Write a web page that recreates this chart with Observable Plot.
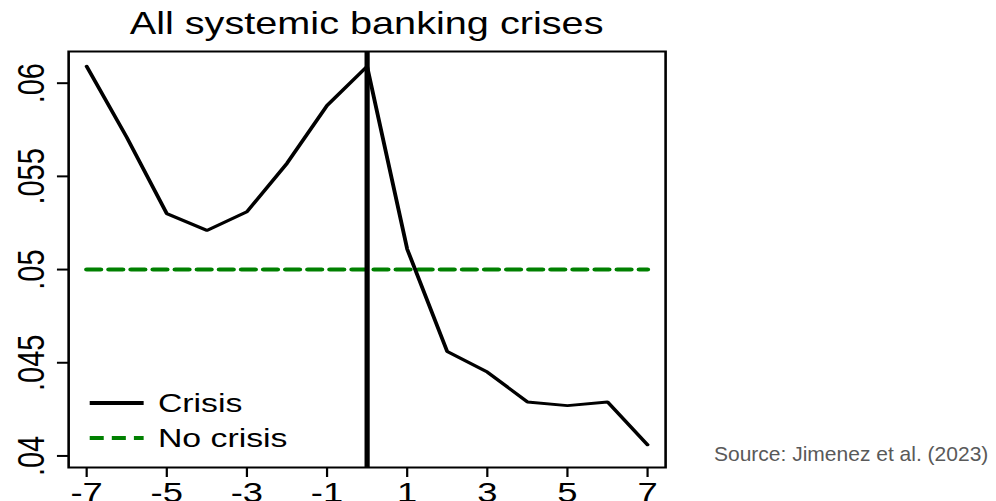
<!DOCTYPE html>
<html>
<head>
<meta charset="utf-8">
<script src="https://cdn.jsdelivr.net/npm/d3@7"></script>
<script src="https://cdn.jsdelivr.net/npm/@observablehq/plot@0.6"></script>
<style>
  html, body { margin: 0; padding: 0; background: #fff; }
  #wrap { position: relative; width: 996px; height: 501px; overflow: hidden; font-family: "Liberation Sans", Arial, sans-serif; }
  /* the graph is drawn in a narrower box and widened, giving its wide lettering */
  #graph { position: absolute; left: 0; top: 0; width: 766px; height: 501px; transform: scaleX(1.3); transform-origin: 0 0; }
  #title { width: 564px; height: 46px; line-height: 44px; padding-top: 1px; box-sizing: border-box; text-align: center; font-size: 30.5px; color: #000; white-space: nowrap; }
  #chart svg { display: block; overflow: visible; }
  .legend-row { position: absolute; left: 0; height: 26px; }
  .legend-row svg { position: absolute; left: 68.5px; top: 0; overflow: visible; }
  .legend-row span { position: absolute; left: 121.5px; top: 0; font-size: 26px; line-height: 26px; white-space: nowrap; color: #000; }
  #source { position: absolute; left: 714px; top: 443px; font-size: 21px; line-height: 21px; color: #595959; white-space: nowrap; }
</style>
</head>
<body>
<div id="wrap">
  <div id="graph">
    <div id="title">All systemic banking crises</div>
    <div id="chart"></div>
    <div id="legend"></div>
  </div>
  <div id="source">Source: Jimenez et al. (2023)</div>
</div>
<script>
// Years relative to the crisis year (0)
const years = [-7, -6, -5, -4, -3, -2, -1, 0, 1, 2, 3, 4, 5, 6, 7];
// Probability around systemic banking crises
const crisis = [0.0609, 0.0571, 0.0530, 0.0521, 0.0531, 0.0557, 0.0588, 0.0609,
                0.0511, 0.0456, 0.0445, 0.0429, 0.0427, 0.0429, 0.0406];
// Unconditional benchmark (no crisis)
const noCrisis = [0.05, 0.05, 0.05, 0.05, 0.05, 0.05, 0.05, 0.05,
                  0.05, 0.05, 0.05, 0.05, 0.05, 0.05, 0.05];
const crisisYear = [0];
const xTicks = [-7, -5, -3, -1, 1, 3, 5, 7];
const yTicks = [0.04, 0.045, 0.05, 0.055, 0.06];
const seriesNames = ["Crisis", "No crisis"];

const rows = years.map((t, i) => ({t, crisis: crisis[i], noCrisis: noCrisis[i]}));

const plot = Plot.plot({
  width: 766,
  height: 455,
  marginLeft: 52.3,
  marginRight: 254.5,
  marginTop: 5,
  marginBottom: 34,
  style: {fontFamily: "'Liberation Sans', Arial, sans-serif", color: "#000", background: "transparent"},
  x: {domain: [-7.45, 7.45]},
  y: {domain: [0.03938, 0.0617]},
  marks: [
    Plot.axisY({
      ticks: yTicks,
      tickFormat: d => d3.format(".3~f")(d).replace(/^0/, ""),
      tickSize: 8.5,
      tickPadding: 10.5,
      tickRotate: -90,
      fontSize: 29,
      strokeWidth: 2,
      label: null
    }),
    Plot.axisX({
      ticks: xTicks,
      tickFormat: d => String(d),
      tickSize: 10,
      tickPadding: 4.5,
      fontSize: 28,
      strokeWidth: 1.7,
      label: null
    }),
    Plot.line(rows, {x: "t", y: "noCrisis", stroke: "#008000", strokeWidth: 4, strokeDasharray: "10.8,6.2"}),
    Plot.line(rows, {x: "t", y: "crisis", stroke: "#000", strokeWidth: 3, strokeLinejoin: "miter"}),
    Plot.ruleX(crisisYear, {stroke: "#000", strokeWidth: 4}),
    Plot.frame({stroke: "#000", strokeWidth: 2})
  ]
});
document.getElementById("chart").appendChild(plot);

// Legend inside the lower-left corner of the plot area
const legend = d3.select("#legend");
const legendStyles = [
  {stroke: "#000", width: 4, dash: null, top: 390},
  {stroke: "#008000", width: 4, dash: "10.8,6.2", top: 425}
];
seriesNames.forEach((name, i) => {
  const s = legendStyles[i];
  const row = legend.append("div").attr("class", "legend-row").style("top", s.top + "px");
  const svg = row.append("svg").attr("width", 41.5).attr("height", 26);
  svg.append("line")
    .attr("x1", 0).attr("x2", 41.5).attr("y1", 13).attr("y2", 13)
    .attr("stroke", s.stroke).attr("stroke-width", s.width)
    .attr("stroke-dasharray", s.dash);
  row.append("span").text(name);
});
</script>
</body>
</html>
